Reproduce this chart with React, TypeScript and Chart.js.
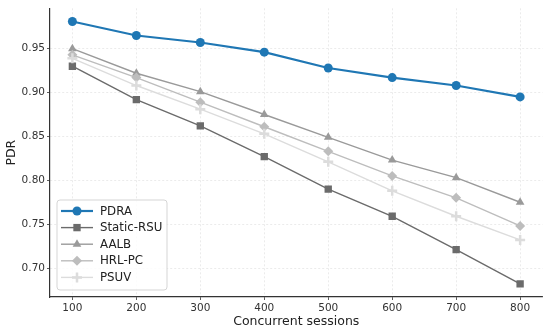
import React, { useEffect, useRef } from "react";
import { Chart, registerables } from "chart.js";

Chart.register(...registerables);

const sessions = [100, 200, 300, 400, 500, 600, 700, 800];
const pdra = [0.981, 0.965, 0.957, 0.946, 0.928, 0.917, 0.908, 0.895];
const staticRsu = [0.930, 0.892, 0.862, 0.827, 0.790, 0.759, 0.721, 0.682];
const aalb = [0.950, 0.922, 0.901, 0.875, 0.849, 0.823, 0.803, 0.775];
const hrlPc = [0.943, 0.917, 0.889, 0.861, 0.833, 0.805, 0.780, 0.748];
const psuv = [0.939, 0.908, 0.881, 0.853, 0.821, 0.788, 0.759, 0.732];
const yTicks = [0.7, 0.75, 0.8, 0.85, 0.9, 0.95];
const xTicks = [100, 200, 300, 400, 500, 600, 700, 800];

const seriesNames = ["PDRA", "Static-RSU", "AALB", "HRL-PC", "PSUV"];
const seriesValues = [pdra, staticRsu, aalb, hrlPc, psuv];
const colors = ["#1f77b4", "#6b6b6b", "#9a9a9a", "#bdbdbd", "#dcdcdc"];
const markers = ["circle", "rect", "triangle", "rectRot", "cross"];
const lineWidths = [2.2, 1.4, 1.4, 1.4, 1.4];
const radii = [4.5, 5.2, 5, 5, 5];

const FONT = "'DejaVu Sans', sans-serif";

function drawMarker(ctx: CanvasRenderingContext2D, kind: string, x: number, y: number, r: number, color: string) {
  ctx.save();
  ctx.fillStyle = color;
  ctx.strokeStyle = color;
  ctx.beginPath();
  if (kind === "circle") {
    ctx.arc(x, y, r, 0, Math.PI * 2);
    ctx.fill();
  } else if (kind === "rect") {
    const s = r * Math.SQRT1_2;
    ctx.rect(x - s, y - s, 2 * s, 2 * s);
    ctx.fill();
  } else if (kind === "triangle") {
    const a = (2 * Math.PI) / 3;
    ctx.moveTo(x, y - r);
    ctx.lineTo(x + Math.sin(a) * r, y - Math.cos(a) * r);
    ctx.lineTo(x + Math.sin(2 * a) * r, y - Math.cos(2 * a) * r);
    ctx.closePath();
    ctx.fill();
  } else if (kind === "rectRot") {
    ctx.moveTo(x, y - r);
    ctx.lineTo(x + r, y);
    ctx.lineTo(x, y + r);
    ctx.lineTo(x - r, y);
    ctx.closePath();
    ctx.fill();
  } else {
    ctx.lineWidth = 2.5;
    ctx.moveTo(x - r, y);
    ctx.lineTo(x + r, y);
    ctx.moveTo(x, y - r);
    ctx.lineTo(x, y + r);
    ctx.stroke();
  }
  ctx.restore();
}

const legendPlugin = {
  id: "mplLegend",
  afterDraw(chart: any) {
    const ctx = chart.ctx as CanvasRenderingContext2D;
    const area = chart.chartArea;
    const x0 = area.left + 7;
    const y0 = area.bottom - 97;
    const w = 110;
    const h = 90;
    ctx.save();
    ctx.beginPath();
    const rr = 3;
    ctx.moveTo(x0 + rr, y0);
    ctx.lineTo(x0 + w - rr, y0);
    ctx.quadraticCurveTo(x0 + w, y0, x0 + w, y0 + rr);
    ctx.lineTo(x0 + w, y0 + h - rr);
    ctx.quadraticCurveTo(x0 + w, y0 + h, x0 + w - rr, y0 + h);
    ctx.lineTo(x0 + rr, y0 + h);
    ctx.quadraticCurveTo(x0, y0 + h, x0, y0 + h - rr);
    ctx.lineTo(x0, y0 + rr);
    ctx.quadraticCurveTo(x0, y0, x0 + rr, y0);
    ctx.closePath();
    ctx.fillStyle = "rgba(255,255,255,0.85)";
    ctx.fill();
    ctx.strokeStyle = "#d5d5d5";
    ctx.lineWidth = 1;
    ctx.stroke();
    ctx.font = `11.8px ${FONT}`;
    ctx.textBaseline = "middle";
    ctx.textAlign = "left";
    for (let i = 0; i < seriesNames.length; i++) {
      const yy = y0 + 11 + i * 16.6;
      ctx.beginPath();
      ctx.strokeStyle = colors[i];
      ctx.lineWidth = lineWidths[i];
      ctx.moveTo(x0 + 4, yy);
      ctx.lineTo(x0 + 36, yy);
      ctx.stroke();
      drawMarker(ctx, markers[i], x0 + 20, yy, radii[i], colors[i]);
      ctx.fillStyle = "#222";
      ctx.fillText(seriesNames[i], x0 + 43, yy + 0.5);
    }
    ctx.restore();
  },
};

export default function App() {
  const ref = useRef<HTMLCanvasElement | null>(null);
  useEffect(() => {
    document.body.style.margin = "0";
    const canvas = ref.current;
    if (!canvas) return;
    const datasets = seriesNames.map((name, i) => ({
      label: name,
      data: sessions.map((s, j) => ({ x: s, y: seriesValues[i][j] })),
      borderColor: colors[i],
      backgroundColor: colors[i],
      pointBackgroundColor: colors[i],
      pointBorderColor: colors[i],
      borderWidth: lineWidths[i],
      pointRadius: radii[i],
      pointStyle: markers[i],
      pointBorderWidth: markers[i] === "cross" ? 2.5 : 0,
      tension: 0,
      order: seriesNames.length - 1 - i,
    }));
    const chart = new Chart(canvas, {
      type: "line",
      data: { datasets },
      plugins: [legendPlugin],
      options: {
        animation: false,
        responsive: false,
        maintainAspectRatio: false,
        layout: { padding: { top: 8, right: 7, left: 0, bottom: 0 } },
        plugins: { legend: { display: false }, tooltip: { enabled: false } },
        scales: {
          x: {
            type: "linear",
            min: 65,
            max: 835,
            afterBuildTicks: (scale: any) => {
              scale.ticks = xTicks.map((v) => ({ value: v }));
            },
            afterFit: (scale: any) => {
              scale.height = 35;
            },
            grid: {
              color: "#e6e6e6",
              lineWidth: 0.8,
              drawTicks: true,
              tickLength: 3,
              tickColor: "#333",
              tickBorderDash: [],
            },
            border: { display: true, color: "#333", width: 1.2, dash: [2, 2] },
            ticks: {
              color: "#333",
              font: { family: FONT, size: 10.5 },
              padding: 2,
              maxRotation: 0,
              callback: (v: any) => String(v),
            },
            title: {
              display: true,
              text: "Concurrent sessions",
              color: "#222",
              font: { family: FONT, size: 12.5 },
              padding: { top: 0, bottom: 3 },
            },
          },
          y: {
            type: "linear",
            min: 0.667,
            max: 0.996,
            afterBuildTicks: (scale: any) => {
              scale.ticks = yTicks.map((v) => ({ value: v }));
            },
            afterFit: (scale: any) => {
              scale.width = 50;
            },
            grid: {
              color: "#e6e6e6",
              lineWidth: 0.8,
              drawTicks: true,
              tickLength: 3,
              tickColor: "#333",
              tickBorderDash: [],
            },
            border: { display: true, color: "#333", width: 1.2, dash: [2, 2] },
            ticks: {
              color: "#333",
              font: { family: FONT, size: 10.5 },
              padding: 2,
              callback: (v: any) => Number(v).toFixed(2),
            },
            title: {
              display: true,
              text: "PDR",
              color: "#222",
              font: { family: FONT, size: 12.5 },
              padding: { top: 4, bottom: 2 },
            },
          },
        },
      },
    });
    return () => chart.destroy();
  }, []);
  return <canvas ref={ref} width={550} height={332} style={{ display: "block", width: 550, height: 332 }} />;
}
